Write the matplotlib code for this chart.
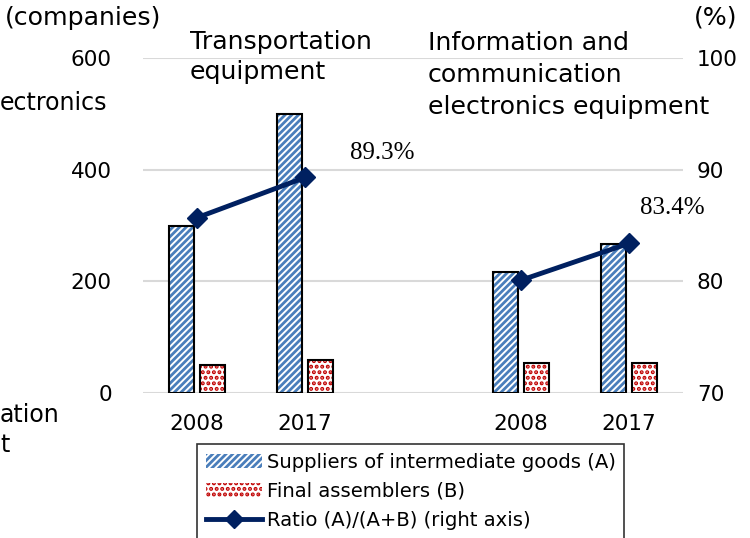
import matplotlib
matplotlib.use("Agg")
import matplotlib.pyplot as plt
from matplotlib.patches import Patch
from matplotlib.lines import Line2D
import numpy as np

plt.rcParams['font.family'] = ['DejaVu Sans']
plt.rcParams['hatch.linewidth'] = 2.0

years = ["2008", "2017", "", "2008", "2017"]
suppliers_A = [300, 499, None, 217, 267]
assemblers_B = [50, 60, None, 54, 54]
ratio_transport = [85.7, 89.3]
ratio_info = [80.1, 83.4]
ratio_labels = ["89.3%", "83.4%"]
title_transport = ["Transportation", "equipment"]
title_info = ["Information and", "communication", "electronics equipment"]
left_ticks = [0, 200, 400, 600]
right_ticks = [70, 80, 90, 100]

BLUE = "#4A7EBB"
RED = "#C00000"
NAVY = "#002060"
GRID = "#D9D9D9"
FS = 15.5
FT = 18.2

fig = plt.figure(figsize=(7.5, 5.38), dpi=100)
ax = fig.add_axes([143/750, 1-393/538, 540/750, 335/538])
ax2 = ax.twinx()

x = np.arange(len(years))
w = 0.23
off = 0.145
for i in range(len(years)):
    if suppliers_A[i] is None:
        continue
    ax.bar(x[i]-off, suppliers_A[i], w, facecolor="white", edgecolor=BLUE, hatch="/////", linewidth=0, zorder=2)
    ax.bar(x[i]-off, suppliers_A[i], w, facecolor="none", edgecolor="black", linewidth=1.5, zorder=3)
    ax.bar(x[i]+off, assemblers_B[i], w, facecolor="white", edgecolor=RED, hatch="...", linewidth=0, zorder=2)
    ax.bar(x[i]+off, assemblers_B[i], w, facecolor="none", edgecolor="black", linewidth=1.5, zorder=3)

ax.set_xlim(-0.5, 4.5)
ax.set_ylim(0, 600)
ax.set_yticks(left_ticks)
ax.set_xticks([0, 1, 3, 4])
ax.set_xticklabels([years[0], years[1], years[3], years[4]])
ax.grid(axis="y", color=GRID, linewidth=1.5, zorder=0)
ax.set_axisbelow(True)
for s in ax.spines.values():
    s.set_visible(False)
for s in ax2.spines.values():
    s.set_visible(False)
ax.tick_params(axis="x", length=0, labelsize=FS, pad=15)
ax.tick_params(axis="y", length=0, labelsize=FS, pad=22.5)

ax2.plot([0, 1], ratio_transport, color=NAVY, lw=3.5, marker="D", ms=10, zorder=5)
ax2.plot([3, 4], ratio_info, color=NAVY, lw=3.5, marker="D", ms=10, zorder=5)
ax2.set_ylim(70, 100)
ax2.set_yticks(right_ticks)
ax2.tick_params(axis="y", length=0, labelsize=FS, pad=10)

ax2.text(1.42, ratio_transport[1] + 2.2, ratio_labels[0], fontsize=18, family="Liberation Serif", ha="left", va="center")
ax2.text(4.1, ratio_info[1] + 3.2, ratio_labels[1], fontsize=18, family="Liberation Serif", ha="left", va="center")

for k, line in enumerate(title_transport):
    fig.text(190/750, 1-(42 + 30*k)/538, line, fontsize=FT, ha="left", va="center")
for k, line in enumerate(title_info):
    fig.text(428/750, 1-(43 + 32*k)/538, line, fontsize=FT, ha="left", va="center")

fig.text(5/750, 1-18/538, "(companies)", fontsize=FT, ha="left", va="center")
fig.text(738/750, 1-18/538, "(%)", fontsize=FT, ha="right", va="center")

# visible parts of labels from the neighbouring panel
fig.text(0, 1-103/538, "ectronics", fontsize=17, ha="left", va="center")
fig.text(0, 1-415/538, "ation", fontsize=17, ha="left", va="center")
fig.text(0, 1-445/538, "t", fontsize=17, ha="left", va="center")

handles = [
    Patch(facecolor="white", edgecolor=BLUE, hatch="/////", linewidth=0),
    Patch(facecolor="white", edgecolor=RED, hatch="...", linewidth=0),
    Line2D([0], [0], color=NAVY, lw=3.5, marker="D", ms=9),
]
labels = ["Suppliers of intermediate goods (A)", "Final assemblers (B)", "Ratio (A)/(A+B) (right axis)"]
leg = fig.legend(handles, labels, loc="upper left", bbox_to_anchor=(197/750, 1-444/538),
                 fontsize=14.1, frameon=True, fancybox=False, edgecolor="black",
                 handlelength=2.85, handletextpad=0.26, borderpad=0.45, labelspacing=0.52,
                 borderaxespad=0)
leg.get_frame().set_linewidth(1.2)

fig.savefig("out.png", dpi=100)
